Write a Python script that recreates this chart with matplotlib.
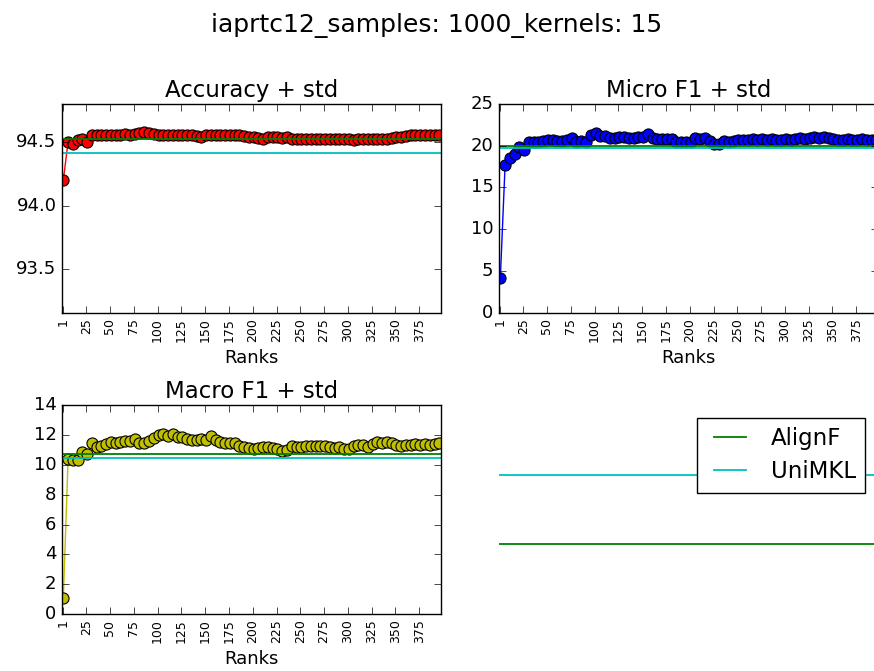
import matplotlib
matplotlib.use('Agg')
import matplotlib.pyplot as plt

plt.style.use('classic')
plt.rcParams['font.family'] = ['DejaVu Sans']

# ranks evaluated (every 5th rank starting at 1)
ranks = list(range(1, 400, 5))

accuracy = [
    94.2, 94.50, 94.485, 94.51, 94.525, 94.50, 94.55, 94.555, 94.555, 94.555,
    94.555, 94.555, 94.555, 94.56, 94.555, 94.56, 94.57, 94.575, 94.57, 94.56,
    94.555, 94.555, 94.55, 94.55, 94.555, 94.55, 94.555, 94.55, 94.545, 94.535,
    94.55, 94.55, 94.55, 94.55, 94.55, 94.55, 94.55, 94.55, 94.545, 94.54,
    94.54, 94.53, 94.525, 94.54, 94.535, 94.54, 94.53, 94.535, 94.525, 94.52,
    94.525, 94.52, 94.525, 94.525, 94.52, 94.525, 94.525, 94.525, 94.52, 94.525,
    94.52, 94.515, 94.525, 94.525, 94.525, 94.525, 94.525, 94.525, 94.525, 94.53,
    94.535, 94.54, 94.545, 94.55, 94.55, 94.55, 94.55, 94.555, 94.55, 94.55,
]

micro_f1 = [
    4.1, 17.7, 18.5, 19.0, 19.9, 19.5, 20.5, 20.4, 20.5, 20.6,
    20.7, 20.7, 20.6, 20.6, 20.7, 20.9, 20.5, 20.6, 20.5, 21.3,
    21.5, 21.2, 21.2, 20.9, 20.9, 21.1, 21.1, 20.9, 20.9, 21.1,
    21.0, 21.4, 20.9, 20.8, 20.8, 20.8, 20.8, 20.5, 20.5, 20.5,
    20.4, 20.9, 20.8, 20.9, 20.6, 20.2, 20.2, 20.6, 20.5, 20.6,
    20.7, 20.7, 20.7, 20.8, 20.7, 20.8, 20.7, 20.8, 20.7, 20.7,
    20.8, 20.7, 20.8, 20.9, 20.8, 20.9, 21.0, 20.9, 21.0, 20.9,
    20.8, 20.7, 20.7, 20.8, 20.7, 20.7, 20.8, 20.7, 20.7, 20.7,
]

macro_f1 = [
    1.1, 10.38, 10.35, 10.3, 10.9, 10.7, 11.45, 11.2, 11.3, 11.4,
    11.55, 11.5, 11.55, 11.6, 11.6, 11.75, 11.5, 11.45, 11.6, 11.8,
    12.0, 12.1, 11.95, 12.1, 11.9, 11.85, 11.75, 11.7, 11.7, 11.75,
    11.65, 11.95, 11.7, 11.55, 11.45, 11.5, 11.45, 11.3, 11.2, 11.15,
    11.05, 11.15, 11.2, 11.2, 11.15, 11.1, 10.95, 11.0, 11.3, 11.2,
    11.2, 11.25, 11.3, 11.3, 11.3, 11.25, 11.2, 11.15, 11.2, 11.1,
    11.1, 11.3, 11.35, 11.35, 11.2, 11.4, 11.55, 11.5, 11.55, 11.45,
    11.35, 11.3, 11.35, 11.35, 11.4, 11.35, 11.4, 11.35, 11.4, 11.45,
]

# baselines
alignf_accuracy, unimkl_accuracy = 94.525, 94.41
alignf_micro, unimkl_micro = 20.0, 19.75
alignf_macro, unimkl_macro = 10.72, 10.45

# legend panel reference levels
legend_levels = [1, 2]

tick_ranks = [1, 25, 50, 75, 100, 125, 150, 175, 200, 225, 250, 275, 300, 325, 350, 375]
tick_labels = [str(t) for t in tick_ranks]

W, H = 874, 671
fig = plt.figure(figsize=(W / 100, H / 100), dpi=100, facecolor='white')


def rect(x0, y0, x1, y1):
    return [x0 / W, 1 - y1 / H, (x1 - x0) / W, (y1 - y0) / H]


ax_acc = fig.add_axes(rect(62, 103.5, 440.7, 312.7))
ax_mic = fig.add_axes(rect(499, 104, 877.7, 312.7))
ax_mac = fig.add_axes(rect(62, 405.3, 440.7, 614))
ax_leg = fig.add_axes(rect(499, 405.3, 877.7, 614))

panels = [
    (ax_acc, accuracy, 'r', 'Accuracy + std', alignf_accuracy, unimkl_accuracy,
     (93.16, 94.8), [93.5, 94.0, 94.5]),
    (ax_mic, micro_f1, 'b', 'Micro F1 + std', alignf_micro, unimkl_micro,
     (0, 25), [0, 5, 10, 15, 20, 25]),
    (ax_mac, macro_f1, 'y', 'Macro F1 + std', alignf_macro, unimkl_macro,
     (0, 14), [0, 2, 4, 6, 8, 10, 12, 14]),
]

for ax, vals, col, title, a_val, u_val, ylim, yticks in panels:
    ax.plot(ranks, vals, 'o-', color=col, markersize=8, markeredgecolor='k',
            markeredgewidth=0.8, linewidth=1.0)
    ax.axhline(a_val, color='g', linewidth=1.3)
    ax.axhline(u_val, color='c', linewidth=1.3)
    ax.set_xlim(-0.4, 397.5)
    ax.set_ylim(*ylim)
    ax.set_yticks(yticks)
    ax.set_xticks(tick_ranks)
    ax.set_xticklabels(tick_labels, rotation=90, fontsize=9)
    ax.tick_params(axis='y', labelsize=13)
    ax.tick_params(length=5)
    ax.set_title(title, fontsize=16.5)
    ax.set_xlabel('Ranks', fontsize=13, labelpad=5)

ax_leg.axhline(legend_levels[0], color='g', linewidth=1.3, label='AlignF')
ax_leg.axhline(legend_levels[1], color='c', linewidth=1.3, label='UniMKL')
ax_leg.set_ylim(0, 3)
ax_leg.axis('off')
ax_leg.legend(loc='upper right', fontsize=16.5, labelspacing=0.45,
              borderaxespad=0.55)

fig.suptitle('iaprtc12_samples: 1000_kernels: 15', fontsize=18, y=1 - 25 / H, va='center')

fig.savefig('out.png', dpi=100, facecolor='white')
